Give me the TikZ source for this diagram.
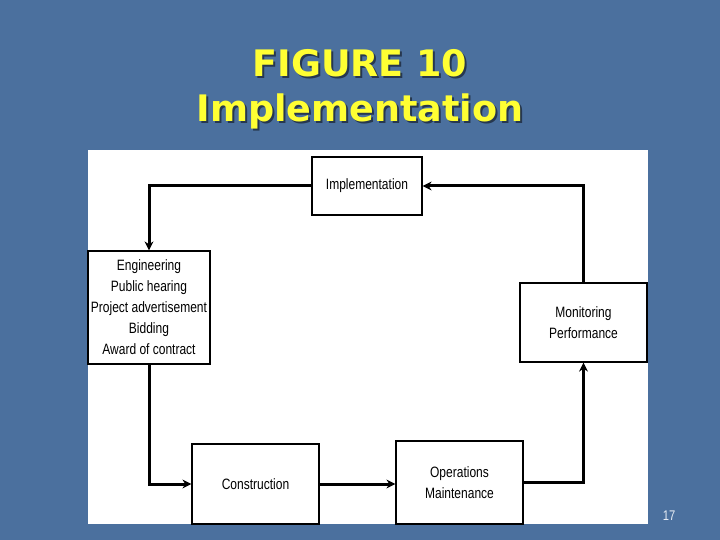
\documentclass[tikz,border=0pt]{standalone}
\usepackage{fontspec}
\usetikzlibrary{positioning}
\usetikzlibrary{arrows.meta}
\newfontfamily\titlefont{DejaVu Sans}
\newfontfamily\boxfont{Liberation Sans}[FakeStretch=0.8]
\definecolor{slide}{HTML}{4B709E}
\definecolor{titleyellow}{HTML}{FFFF33}
\definecolor{titleshadow}{HTML}{26374F}
\definecolor{pagenum}{HTML}{E6ECF4}
\newcommand\shadowed[1]{\makebox[0pt][l]{\kern2pt\raisebox{-2pt}{\textcolor{titleshadow}{#1}}}#1}

\begin{document}
\begin{tikzpicture}[x=1pt,y=-1pt,
    box/.style={draw, fill=white, line width=1.2pt, align=center, inner sep=0pt,
      font=\boxfont\fontsize{15}{21}\selectfont},
    flow/.style={line width=3pt, -{Stealth[length=9pt,width=9pt]}},
    heading/.style={anchor=base, text=titleyellow,
      font=\titlefont\bfseries\fontsize{36.5}{45}\selectfont}]
    % slide
    \fill[slide] (0,0) rectangle (720,540);
    \useasboundingbox (0,0) rectangle (720,540);
    \fill[white] (88,150) rectangle (648,524);
    % title
    \node[heading] (title) at (360,77) {\shadowed{FIGURE 10}};
    \node[heading] (subtitle) at (360,122) {\shadowed{Implementation}};
    % boxes
    \node[box, minimum width=110, minimum height=58] (impl) at (367,186) {Implementation};
    \node[box, minimum width=122, minimum height=113] (eng) at (149,307.5)
      {Engineering\\ Public hearing\\ Project advertisement\\ Bidding\\ Award of contract};
    \node[box, minimum width=127, minimum height=79] (mon) at (583.5,322.5) {Monitoring\\ Performance};
    \node[box, minimum width=127, minimum height=80] (con) at (255.5,484) {Construction};
    \node[box, minimum width=127, minimum height=83] (ops) at (459.5,482.5) {Operations\\ Maintenance};
    % cycle
    \draw[flow] (impl.west) -| (eng.north);
    \draw[flow] (eng.south) |- (con.west);
    \draw[flow] (con.east) -- (con.east -| ops.west);
    \draw[flow] (ops.east) -| (mon.south);
    \draw[flow] (mon.north) |- (impl.east);
    % page number
    \node[text=pagenum, font=\boxfont\fontsize{14}{16}\selectfont] (page) at (669,516) {17};
\end{tikzpicture}
\end{document}
